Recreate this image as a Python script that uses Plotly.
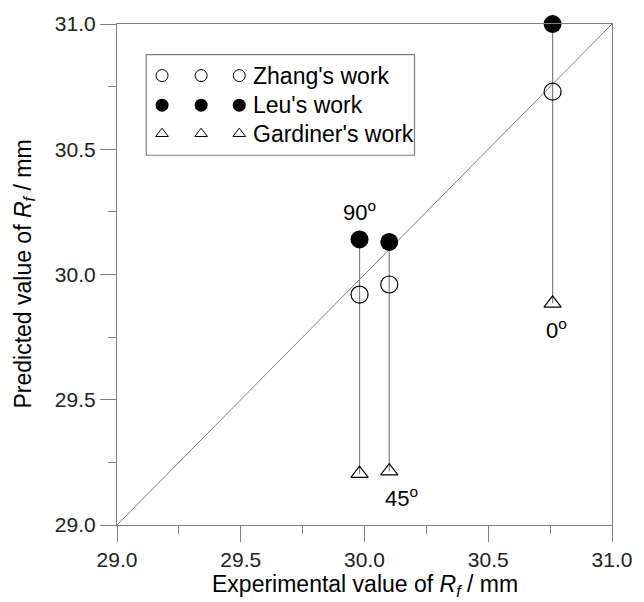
import plotly.graph_objects as go

angles = ["90<sup>o</sup>", "45<sup>o</sup>", "0<sup>o</sup>"]
experimental = [29.98, 30.10, 30.76]
zhang = [29.92, 29.96, 30.73]
leu = [30.14, 30.13, 31.0]
gardiner = [29.205, 29.215, 29.885]
series_names = ["Zhang's work", "Leu's work", "Gardiner's work"]
x_title = "Experimental value of <i>R<sub>f</sub></i> / mm"
y_title = "Predicted value of <i>R<sub>f</sub></i> / mm"

FONT = "Liberation Sans, Arial, sans-serif"
GRAY = "#808080"
PLOT_L, PLOT_R, PLOT_T, PLOT_B = 117, 623, 18, 525
PW, PH = PLOT_R - PLOT_L, PLOT_B - PLOT_T

fig = go.Figure()

# diagonal y = x
fig.add_trace(go.Scatter(x=[29.0, 31.0], y=[29.0, 31.0], mode="lines",
                         line=dict(color=GRAY, width=1), showlegend=False, hoverinfo="skip"))

# vertical connectors Leu -> Gardiner
vx, vy = [], []
for x, top, bot in zip(experimental, leu, gardiner):
    vx += [x, x, None]
    vy += [top, bot, None]
fig.add_trace(go.Scatter(x=vx, y=vy, mode="lines", line=dict(color=GRAY, width=1.2),
                         showlegend=False, hoverinfo="skip"))

fig.add_trace(go.Scatter(x=experimental, y=zhang, mode="markers", name=series_names[0],
                         marker=dict(symbol="circle-open", size=17, color="#000",
                                     line=dict(width=1.2, color="#000")), cliponaxis=False))
fig.add_trace(go.Scatter(x=experimental, y=leu, mode="markers", name=series_names[1],
                         marker=dict(symbol="circle", size=18, color="#000"), cliponaxis=False))
fig.add_trace(go.Scatter(x=experimental, y=gardiner, mode="markers", name=series_names[2],
                         marker=dict(symbol="triangle-up-open", size=15, color="#000",
                                     line=dict(width=1.2, color="#000")), cliponaxis=False))

# angle labels
label_pos = [(experimental[0], leu[0], 0, -28), (experimental[1], gardiner[1], 12, 26),
             (experimental[2], gardiner[2], 4, 26)]
for txt, (x, y, ax, ay) in zip(angles, label_pos):
    fig.add_annotation(x=x, y=y, text=txt, showarrow=False, xshift=ax, yshift=-ay,
                       font=dict(family=FONT, size=22, color="#000"))

# hand-built legend on an overlay axis (paper-like 0..1 coordinates)
leg_cols = [0.091, 0.170, 0.247]
leg_rows = [0.897, 0.838, 0.781]
leg_syms = [dict(symbol="circle-open", size=12, color="#000", line=dict(width=1, color="#000")),
            dict(symbol="circle", size=13, color="#000"),
            dict(symbol="triangle-up-open", size=11, color="#000", line=dict(width=1, color="#000"))]
for row, sym, name in zip(leg_rows, leg_syms, series_names):
    fig.add_trace(go.Scatter(x=leg_cols, y=[row] * len(leg_cols), mode="markers",
                             marker=sym, xaxis="x2", yaxis="y2", showlegend=False,
                             hoverinfo="skip"))
    fig.add_annotation(x=0.27, y=row, xref="x2", yref="y2", text=name, showarrow=False,
                       xanchor="left", yanchor="middle",
                       font=dict(family=FONT, size=23, color="#000"))
fig.add_shape(type="rect", xref="x2", yref="y2", x0=0.059, x1=0.601, y0=0.738, y1=0.939,
              line=dict(color=GRAY, width=1.2), fillcolor="rgba(0,0,0,0)")

# axis titles as annotations for exact placement
fig.add_annotation(xref="paper", yref="paper", x=0.5, y=-(586 - PLOT_B) / PH, text=x_title,
                   showarrow=False, xanchor="center", yanchor="middle",
                   font=dict(family=FONT, size=23, color="#000"))
fig.add_annotation(xref="paper", yref="paper", x=-(PLOT_L - 22) / PW, y=0.5, text=y_title,
                   showarrow=False, xanchor="center", yanchor="middle", textangle=-90,
                   font=dict(family=FONT, size=23, color="#000"))

axis_common = dict(range=[29.0, 31.0], dtick=0.5, tickformat=".1f", showgrid=False,
                   zeroline=False, showline=True, linecolor=GRAY, linewidth=1.2, mirror=True,
                   ticks="outside", ticklen=16, tickcolor=GRAY, tickwidth=1.2,
                   ticklabeloverflow="allow",
                   tickfont=dict(family=FONT, size=21, color="#222"),
                   minor=dict(dtick=0.25, ticks="outside", ticklen=8, tickcolor=GRAY, tickwidth=1.2))

fig.update_layout(
    width=644, height=602,
    margin=dict(l=PLOT_L, r=644 - PLOT_R, t=PLOT_T, b=602 - PLOT_B),
    plot_bgcolor="white", paper_bgcolor="white",
    showlegend=False,
    hovermode=False,
    xaxis=dict(**axis_common),
    yaxis=dict(**axis_common),
    xaxis2=dict(range=[0, 1], overlaying="x", visible=False, fixedrange=True),
    yaxis2=dict(range=[0, 1], overlaying="y", visible=False, fixedrange=True),
)

fig.write_html("out.html", config={"displayModeBar": False},
               post_script="document.body.style.margin='0';document.body.style.overflow='hidden';")
